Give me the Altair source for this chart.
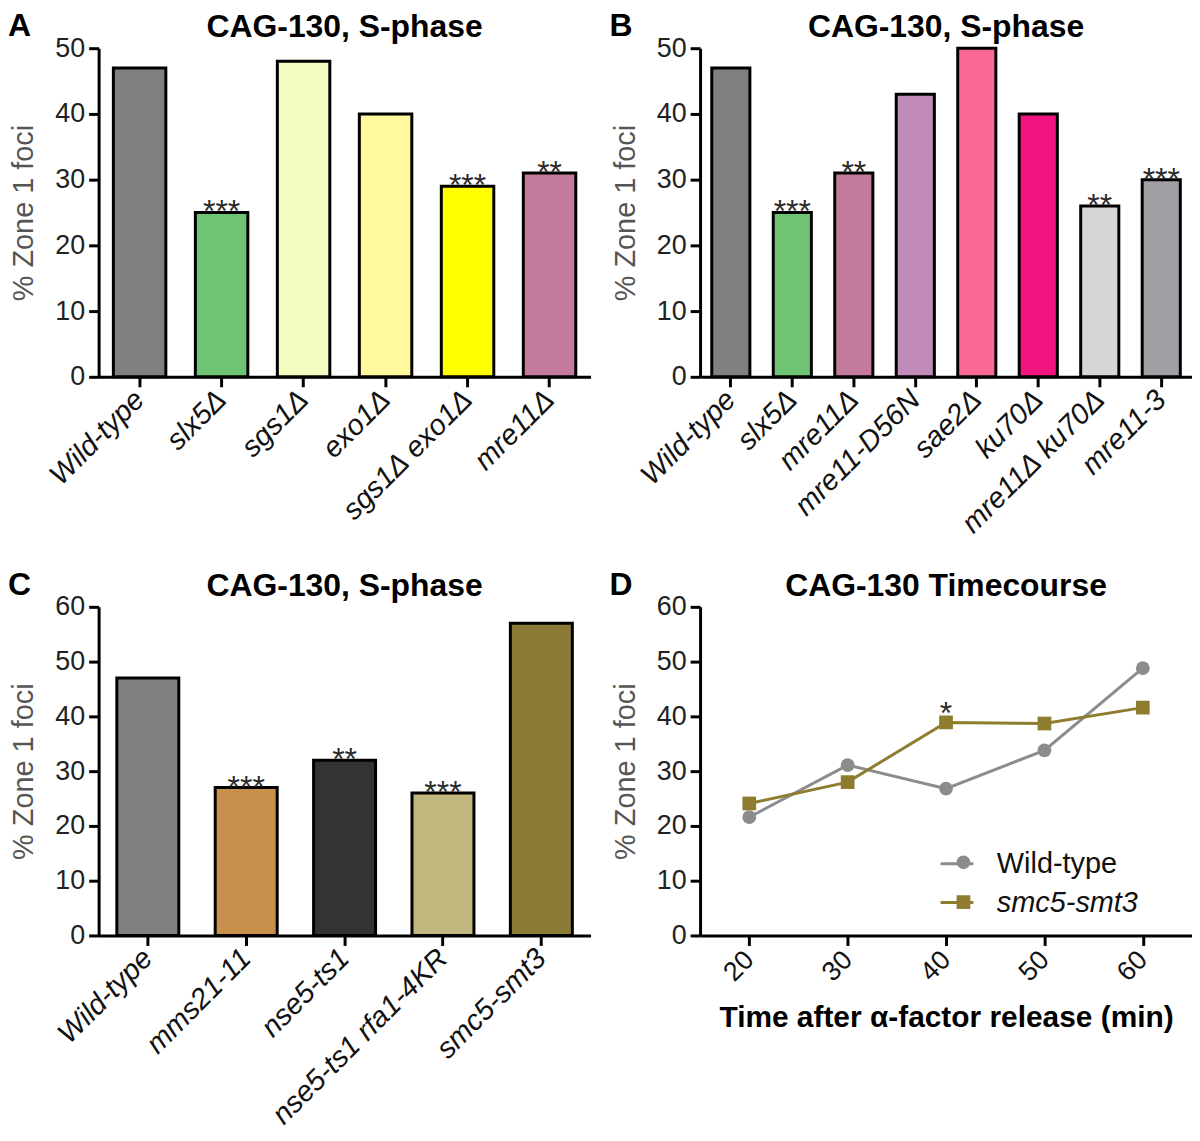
import altair as alt
import pandas as pd

FONT = "Liberation Sans"

# ---------------- data ----------------
a_labels = ["Wild-type", "slx5Δ", "sgs1Δ", "exo1Δ", "sgs1Δ exo1Δ", "mre11Δ"]
a_values = [47, 25, 48, 40, 29, 31]
a_colors = ["#808080", "#6EC472", "#F3FBC0", "#FFF99E", "#FFFF00", "#C47A9C"]
a_stars = ["", "***", "", "", "***", "**"]

b_labels = ["Wild-type", "slx5Δ", "mre11Δ", "mre11-D56N", "sae2Δ", "ku70Δ",
            "mre11Δ ku70Δ", "mre11-3"]
b_values = [47, 25, 31, 43, 50, 40, 26, 30]
b_colors = ["#808080", "#6EC472", "#C47A9C", "#C08BB9", "#FA6895", "#F2157F",
            "#D6D6D6", "#A0A0A4"]
b_stars = ["", "***", "**", "", "", "", "**", "***"]

c_labels = ["Wild-type", "mms21-11", "nse5-ts1", "nse5-ts1 rfa1-4KR", "smc5-smt3"]
c_values = [47, 27, 32, 26, 57]
c_colors = ["#808080", "#C8904C", "#333333", "#C1B77E", "#8B7B37"]
c_stars = ["", "***", "**", "***", ""]

d_times = [20, 30, 40, 50, 60]
d_series = ["Wild-type", "smc5-smt3"]
d_shape_keys = ["wt", "smc5"]
d_wt = [21.6, 31.1, 26.8, 33.8, 48.8]
d_smc5 = [24.1, 28.0, 38.9, 38.7, 41.6]
d_star_time = [40]
d_star_value = [38.9]
d_star_text = ["*"]
d_colors = ["#8C8C8C", "#8E7D2F"]

W = 494
H = 330
COL_GAP = 110
ROW_GAP = 231


def y_axis(vmax):
    return alt.Axis(
        values=list(range(0, vmax + 1, 10)), title="% Zone 1 foci", grid=False,
        domainColor="black", domainWidth=3, tickColor="black", tickWidth=3,
        tickSize=10, labelFont=FONT, labelFontSize=27, labelColor="#222222",
        labelPadding=4, titleFont=FONT, titleFontSize=29, titleFontWeight="normal",
        titleColor="#555555", titlePadding=16,
    )


def x_axis(italic=True, title=None):
    kw = dict(
        labelAngle=-45, labelAlign="right", labelBaseline="middle",
        domainColor="black", domainWidth=3, tickColor="black", tickWidth=3,
        tickSize=10, labelFont=FONT, labelColor="#111111",
        labelLimit=0, grid=False,
    )
    if italic:
        kw.update(labelFontStyle="italic", labelFontSize=29, labelPadding=8)
    else:
        kw.update(labelFontSize=27, labelPadding=10)
    if title is None:
        kw["title"] = None
    else:
        kw.update(title=title, titleFont=FONT, titleFontSize=30,
                  titleFontWeight="bold", titleColor="black", titlePadding=17)
    return alt.Axis(**kw)


def head_layers(letter, title):
    df = pd.DataFrame({"t": [letter], "h": [title]})
    let = alt.Chart(df).mark_text(
        font=FONT, fontSize=32, fontWeight="bold", align="left",
        baseline="alphabetic", color="black",
    ).encode(x=alt.value(-91), y=alt.value(-12), text="t:N")
    ttl = alt.Chart(df).mark_text(
        font=FONT, fontSize=32, fontWeight="bold", align="center",
        baseline="alphabetic", color="black",
    ).encode(x=alt.value(W / 2), y=alt.value(-11), text="h:N")
    return [let, ttl]


def bar_panel(labels, values, colors, stars, letter, vmax, pad):
    df = pd.DataFrame({"g": labels, "v": values, "c": colors, "s": stars})
    xs = alt.Scale(paddingInner=pad, paddingOuter=pad / 2)
    ys = alt.Scale(domain=[0, vmax], nice=False)
    bars = alt.Chart(df).mark_bar(stroke="black", strokeWidth=3).encode(
        x=alt.X("g:N", sort=labels, scale=xs, axis=x_axis()),
        y=alt.Y("v:Q", scale=ys, axis=y_axis(vmax)),
        fill=alt.Fill("c:N", scale=None),
    )
    txt = alt.Chart(df).mark_text(
        font=FONT, fontSize=32, baseline="alphabetic", dy=10, color="#2a2a2a"
    ).encode(
        x=alt.X("g:N", sort=labels, scale=xs),
        y=alt.Y("v:Q", scale=ys),
        text="s:N",
    )
    return alt.layer(bars, txt, *head_layers(letter, "CAG-130, S-phase")).properties(
        width=W, height=H
    )


A = bar_panel(a_labels, a_values, a_colors, a_stars, "A", 50, 0.36)
B = bar_panel(b_labels, b_values, b_colors, b_stars, "B", 50, 0.38)
C = bar_panel(c_labels, c_values, c_colors, c_stars, "C", 60, 0.37)

# ---------------- panel D ----------------
n = len(d_times)
d_df = pd.DataFrame({
    "t": d_times * 2,
    "v": d_wt + d_smc5,
    "s": [d_series[0]] * n + [d_series[1]] * n,
    "k": [d_shape_keys[0]] * n + [d_shape_keys[1]] * n,
})
star_df = pd.DataFrame({"t": d_star_time, "v": d_star_value, "s": d_star_text})

dx_scale = alt.Scale(type="point", padding=0.5)
dy_scale = alt.Scale(domain=[0, 60], nice=False)
color_scale = alt.Scale(domain=d_series, range=d_colors)
shape_scale = alt.Scale(domain=d_shape_keys, range=["circle", "square"])

# legends are placed in the coordinates of the whole grid (origin = panel A plot)
LX = W + COL_GAP + 240
LY = H + ROW_GAP + 240
line_legend = alt.Legend(
    title=None, orient="none", legendX=LX, legendY=LY, padding=0,
    labelFont=FONT, labelFontSize=29, labelColor="#111111",
    labelFontStyle={"expr": "datum.label == 'smc5-smt3' ? 'italic' : 'normal'"},
    symbolType="stroke", symbolSize=1089, symbolStrokeWidth=3,
    rowPadding=6, labelOffset=22, symbolOpacity=1,
)
shape_legend = alt.Legend(
    title=None, orient="none", legendX=LX + 10, legendY=LY + 2, padding=0,
    labelFont=FONT, labelFontSize=29, labelOpacity=0, labelExpr="' '",
    symbolSize=190, symbolStrokeWidth=0, rowPadding=10, labelOffset=22,
    symbolOpacity=1,
    symbolFillColor={"expr": "datum.value == 'smc5' ? '%s' : '%s'"
                     % (d_colors[1], d_colors[0])},
)

dx = alt.X("t:O", scale=dx_scale,
           axis=x_axis(italic=False, title="Time after α-factor release (min)"))
dy = alt.Y("v:Q", scale=dy_scale, axis=y_axis(60))

d_lines = alt.Chart(d_df).mark_line(strokeWidth=3).encode(
    x=dx, y=dy,
    color=alt.Color("s:N", scale=color_scale, sort=d_series, legend=line_legend),
)
d_points = alt.Chart(d_df).mark_point(filled=True, size=190, opacity=1).encode(
    x=dx, y=dy,
    color=alt.Color("s:N", scale=color_scale, sort=d_series, legend=line_legend),
    shape=alt.Shape("k:N", scale=shape_scale, sort=d_shape_keys, legend=shape_legend),
)
d_star = alt.Chart(star_df).mark_text(
    font=FONT, fontSize=32, baseline="alphabetic", dy=2, color="#2a2a2a"
).encode(x=alt.X("t:O", scale=dx_scale), y=alt.Y("v:Q", scale=dy_scale), text="s:N")

D = alt.layer(d_lines, d_points, d_star, *head_layers("D", "CAG-130 Timecourse")).properties(
    width=W, height=H
)

chart = alt.concat(
    A, B, C, D, columns=2, spacing={"row": ROW_GAP, "column": COL_GAP}, bounds="flush"
).properties(
    padding=0, background="white"
).configure_view(stroke=None)

chart.save("out.html", embed_options={"renderer": "svg", "actions": False})
